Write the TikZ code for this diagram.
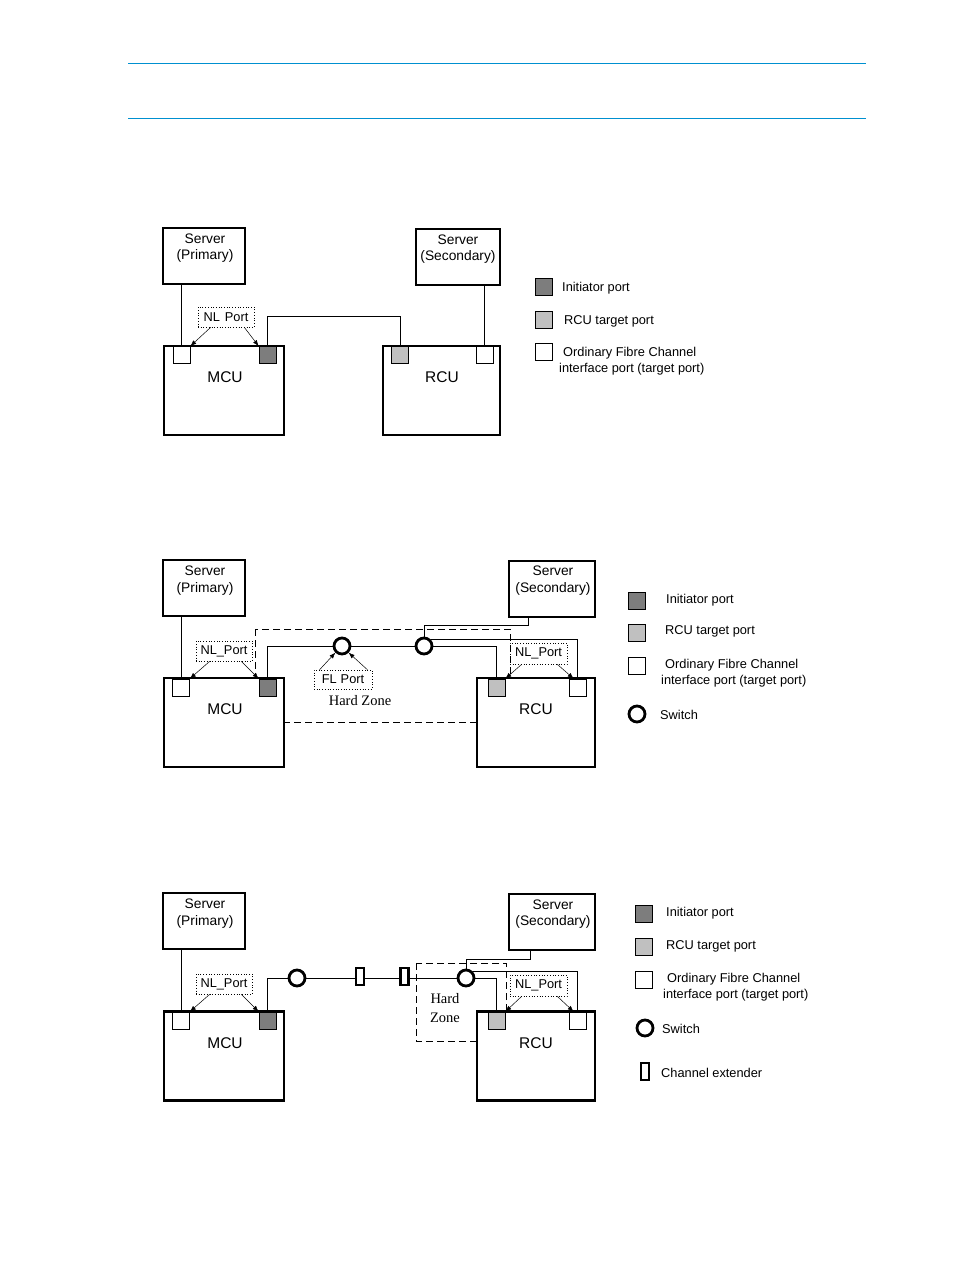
\documentclass[tikz,border=0pt]{standalone}
\usepackage{fontspec}
\setmainfont{Liberation Sans}
\newfontfamily\hzfont{Liberation Serif}
\usetikzlibrary{arrows.meta,calc}
\definecolor{hdrblue}{RGB}{0,144,208}
\definecolor{initc}{RGB}{125,125,125}
\definecolor{rcuc}{RGB}{192,192,192}
\begin{document}
\begin{tikzpicture}[x=1pt,y=-1pt,
  bigbox/.style={draw,line width=2.2pt,fill=white,inner sep=0pt},
  srvbox/.style={bigbox,minimum height=56pt},
  cubox/.style={bigbox,minimum height=89pt,minimum width=#1},
  port/.style={draw,line width=0.8pt,minimum size=17pt,inner sep=0pt},
  initp/.style={port,fill=initc},
  rcup/.style={port,fill=rcuc},
  ordp/.style={port,fill=white},
  switch/.style={circle,draw,line width=2.8pt,minimum size=16pt,inner sep=0pt,fill=white},
  extender/.style={draw,line width=2.4pt,minimum width=8pt,minimum height=17pt,inner sep=0pt,fill=white},
  srvtxt/.style={inner sep=0pt,align=center,font=\fontsize{13.8}{16.5}\selectfont},
  cutxt/.style={inner sep=0pt,font=\fontsize{15.5}{18}\selectfont},
  lgtxt/.style={inner sep=0pt,anchor=west,font=\fontsize{12.8}{15}\selectfont},
  portlbl/.style={draw,dotted,line width=0.7pt,inner sep=0pt,font=\fontsize{12.8}{15}\selectfont},
  hztxt/.style={inner sep=0pt,align=center,font=\hzfont\fontsize{14.5}{19}\selectfont},
  conn/.style={line width=0.8pt},
  hz/.style={line width=0.8pt,dash pattern=on 7pt off 4pt},
  lblarrow/.style={line width=0.5pt,-{Latex[length=6pt,width=4.5pt]}},
  hdr/.style={hdrblue,line width=1pt}]
\useasboundingbox (0,0) rectangle (954,1270);

% header rules
\coordinate (h1a) at (128,63); \coordinate (h1b) at (866,63);
\coordinate (h2a) at (128,118); \coordinate (h2b) at (866,118);
\draw[hdr] (h1a) -- (h1b);
\draw[hdr] (h2a) -- (h2b);

%%%%%%%%%%%%%%%% Diagram 1
\node[srvbox,minimum width=82pt] (sp1) at (204,256) {};
\node[srvtxt] (sp1t) at (205,248) {Server\\(Primary)};
\node[srvbox,minimum width=84pt] (ss1) at (458,257) {};
\node[srvtxt] (ss1t) at (458,249) {Server\\(Secondary)};
\node[cubox=120pt] (mcu1) at (224,390.5) {};
\node[cutxt] (mcu1t) at (225,377) {MCU};
\node[cubox=117pt] (rcu1) at (441.5,390.5) {};
\node[cutxt] (rcu1t) at (442,377) {RCU};
\node[ordp] (mo1) at (181.5,355) {};
\node[initp] (mi1) at (267.5,355) {};
\node[rcup] (rr1) at (400,355) {};
\node[ordp] (ro1) at (484.5,355) {};
\coordinate (k1) at (0,316);
\draw[conn] (mo1.north) -- (mo1.north |- sp1.south);
\draw[conn] (mi1.north) -- (mi1.north |- k1) -| (rr1.north);
\draw[conn] (ro1.north) -- (ro1.north |- ss1.south);
\node[portlbl,minimum width=56pt,minimum height=20pt] (nl1) at (226,317) {NL\hspace{5pt}Port};
\draw[lblarrow] ($(nl1.south west)+(13,0)$) -- (mo1.north east);
\draw[lblarrow] ($(nl1.south east)+(-10,0)$) -- (mi1.north west);
% legend 1
\node[initp] (l1i) at (544,286.5) {};
\node[lgtxt] (l1it) at (562,288) {Initiator port};
\node[rcup] (l1r) at (544,319.5) {};
\node[lgtxt] (l1rt) at (564,321) {RCU target port};
\node[ordp] (l1o) at (544,351.5) {};
\node[lgtxt] (l1ot) at (563,353) {Ordinary Fibre Channel};
\node[lgtxt] (l1ot2) at (559,369) {interface port (target port)};

%%%%%%%%%%%%%%%% Diagram 2
\draw[hz] (255,629) rectangle (510,722);
\node[srvbox,minimum width=82pt] (sp2) at (204,588) {};
\node[srvtxt] (sp2t) at (205,580.5) {Server\\(Primary)};
\node[srvbox,minimum width=86pt] (ss2) at (552,589) {};
\node[srvtxt] (ss2t) at (553,580.5) {Server\\(Secondary)};
\node[cubox=120pt] (mcu2) at (224,722.5) {};
\node[cutxt] (mcu2t) at (225,709) {MCU};
\node[cubox=118pt] (rcu2) at (536,722.5) {};
\node[cutxt] (rcu2t) at (536,709) {RCU};
\node[ordp] (mo2) at (181,687.5) {};
\node[initp] (mi2) at (267.5,687.5) {};
\node[rcup] (rr2) at (496.5,687.5) {};
\node[ordp] (ro2) at (577.5,687.5) {};
\node[switch] (sw21) at (342,646) {};
\node[switch] (sw22) at (424,646) {};
\coordinate (k2) at (528,625);
\draw[conn] (mo2.north) -- (mo2.north |- sp2.south);
\draw[conn] (mi2.north) |- (sw21.west);
\draw[conn] (sw21.east) -- (sw22.west);
\draw[conn] (sw22.east) -| (rr2.north);
\draw[conn] (sw22.45) -| (ro2.north);
\draw[conn] (sw22.north) |- (k2) -- (k2 |- ss2.south);
\node[portlbl,minimum width=56pt,minimum height=20pt] (nl2a) at (224,651) {NL\_Port};
\node[portlbl,minimum width=57pt,minimum height=21pt] (nl2b) at (538.5,653.5) {NL\_Port};
\node[portlbl,minimum width=58pt,minimum height=19pt] (fl2) at (343,679.5) {FL\hspace{4pt}Port};
\node[hztxt] (hz2t) at (360,701) {Hard Zone};
\draw[lblarrow] ($(nl2a.south west)+(14,0)$) -- (mo2.north east);
\draw[lblarrow] ($(nl2a.south east)+(-11,0)$) -- (mi2.north west);
\draw[lblarrow] ($(nl2b.south west)+(12,0)$) -- (rr2.north east);
\draw[lblarrow] ($(nl2b.south east)+(-10,0)$) -- ($(ro2.north west)+(5,0)$);
\draw[lblarrow] ($(fl2.north west)+(6,0)$) -- (sw21.south west);
\draw[lblarrow] ($(fl2.north east)+(-5,0)$) -- (sw21.south east);
% legend 2
\node[initp] (l2i) at (637,600.5) {};
\node[lgtxt] (l2it) at (666,600) {Initiator port};
\node[rcup] (l2r) at (637,632.5) {};
\node[lgtxt] (l2rt) at (665,631) {RCU target port};
\node[ordp] (l2o) at (637,665.5) {};
\node[lgtxt] (l2ot) at (665,665) {Ordinary Fibre Channel};
\node[lgtxt] (l2ot2) at (661,681) {interface port (target port)};
\node[switch] (l2s) at (637,714) {};
\node[lgtxt] (l2st) at (660,715) {Switch};

%%%%%%%%%%%%%%%% Diagram 3
\draw[hz] (416,963) rectangle (506,1041);
\node[srvbox,minimum width=82pt] (sp3) at (204,921) {};
\node[srvtxt] (sp3t) at (205,913.5) {Server\\(Primary)};
\node[srvbox,minimum width=86pt] (ss3) at (552,922) {};
\node[srvtxt] (ss3t) at (553,914) {Server\\(Secondary)};
\node[cubox=120pt] (mcu3) at (224,1056) {};
\node[cutxt] (mcu3t) at (225,1043) {MCU};
\node[cubox=118pt] (rcu3) at (536,1056) {};
\node[cutxt] (rcu3t) at (536,1043) {RCU};
\node[ordp] (mo3) at (181,1020.5) {};
\node[initp] (mi3) at (267.5,1020.5) {};
\node[rcup] (rr3) at (496.5,1020.5) {};
\node[ordp] (ro3) at (577.5,1020.5) {};
\node[switch] (sw31) at (297,978) {};
\node[extender] (ex31) at (360,976.5) {};
\node[extender] (ex32) at (404.5,976.5) {};
\node[switch] (sw32) at (466,978) {};
\coordinate (k3) at (530,959);
\draw[conn] (mo3.north) -- (mo3.north |- sp3.south);
\draw[conn] (mi3.north) |- (sw31.west);
\draw[conn] (sw31.east) -- (ex31.west |- sw31.east);
\draw[conn] (ex31.east |- sw31.east) -- (ex32.west |- sw31.east);
\draw[conn] (ex32.east |- sw32.west) -- (sw32.west);
\draw[conn] (sw32.east) -| (rr3.north);
\draw[conn] (sw32.45) -| (ro3.north);
\draw[conn] (sw32.north) |- (k3) -- (k3 |- ss3.south);
\node[portlbl,minimum width=56pt,minimum height=20pt] (nl3a) at (224,984) {NL\_Port};
\node[portlbl,minimum width=57pt,minimum height=21pt] (nl3b) at (538.5,985.5) {NL\_Port};
\node[hztxt] (hz3t) at (445,1008) {Hard\\Zone};
\draw[lblarrow] ($(nl3a.south west)+(14,0)$) -- (mo3.north east);
\draw[lblarrow] ($(nl3a.south east)+(-11,0)$) -- (mi3.north west);
\draw[lblarrow] ($(nl3b.south west)+(12,0)$) -- (rr3.north east);
\draw[lblarrow] ($(nl3b.south east)+(-10,0)$) -- ($(ro3.north west)+(5,0)$);
% legend 3
\node[initp] (l3i) at (644,913.5) {};
\node[lgtxt] (l3it) at (666,913) {Initiator port};
\node[rcup] (l3r) at (644,946.5) {};
\node[lgtxt] (l3rt) at (666,946) {RCU target port};
\node[ordp] (l3o) at (644,979.5) {};
\node[lgtxt] (l3ot) at (667,979) {Ordinary Fibre Channel};
\node[lgtxt] (l3ot2) at (663,995) {interface port (target port)};
\node[switch] (l3s) at (645,1028) {};
\node[lgtxt] (l3st) at (662,1029) {Switch};
\node[extender] (l3e) at (645,1071.5) {};
\node[lgtxt] (l3et) at (661,1073) {Channel extender};
\end{tikzpicture}
\end{document}
